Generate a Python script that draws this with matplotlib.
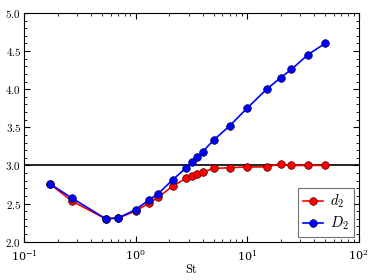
import matplotlib
matplotlib.use('Agg')
import matplotlib.pyplot as plt
from matplotlib.ticker import MultipleLocator, FuncFormatter, LogLocator

plt.rcParams['mathtext.fontset'] = 'cm'
plt.rcParams['font.family'] = 'serif'
plt.rcParams['font.serif'] = ['DejaVu Serif']

# Stokes numbers and dimensions
st = [0.17, 0.27, 0.54, 0.70, 1.0, 1.33, 1.6, 2.15, 2.85, 3.2,
      3.55, 4.0, 5.0, 7.0, 10.0, 15.0, 20.0, 25.0, 35.0, 50.0]
d2 = [2.76, 2.53, 2.30, 2.31, 2.40, 2.51, 2.58, 2.73, 2.83, 2.86,
      2.89, 2.91, 2.96, 2.97, 2.98, 2.98, 3.02, 3.00, 3.00, 3.00]
D2 = [2.76, 2.57, 2.30, 2.31, 2.42, 2.55, 2.63, 2.81, 2.97, 3.04,
      3.11, 3.18, 3.33, 3.52, 3.75, 4.00, 4.15, 4.26, 4.45, 4.60]

fig = plt.figure(figsize=(3.74, 2.80), dpi=100)
ax = fig.add_axes([0.064, 0.137, 0.895, 0.817])

ax.axhline(3.0, color='k', lw=1.2, zorder=1)
ax.plot(st, d2, '-o', color='r', mfc='r', mec='#400000', mew=0.5,
        ms=5.5, lw=1.2, label=r'$d_2$', zorder=2)
ax.plot(st, D2, '-o', color='b', mfc='b', mec='#000040', mew=0.5,
        ms=5.5, lw=1.2, label=r'$D_2$', zorder=3)

ax.set_xscale('log')
ax.set_xlim(0.1, 100)
ax.set_ylim(2.0, 5.0)
ax.yaxis.set_major_locator(MultipleLocator(0.5))
ax.yaxis.set_minor_locator(MultipleLocator(0.1))
ax.xaxis.set_minor_locator(LogLocator(base=10, subs=range(2, 10)))
ax.yaxis.set_major_formatter(FuncFormatter(lambda v, p: r'$%.1f$' % v))
ax.tick_params(which='both', direction='in', top=True, right=True,
               labelsize=8, pad=2)
ax.tick_params(axis='x', which='major', pad=5)
ax.tick_params(which='major', length=4)
ax.tick_params(which='minor', length=2)
ax.set_xlabel(r'$\mathrm{St}$', fontsize=9, labelpad=0)

leg = ax.legend(loc='lower right', fontsize=10.5, fancybox=False,
                edgecolor='0.3', handlelength=1.4, borderpad=0.35,
                labelspacing=0.3, borderaxespad=0.3, handletextpad=0.5)
leg.get_frame().set_linewidth(0.8)

fig.savefig('out.png', dpi=100)
